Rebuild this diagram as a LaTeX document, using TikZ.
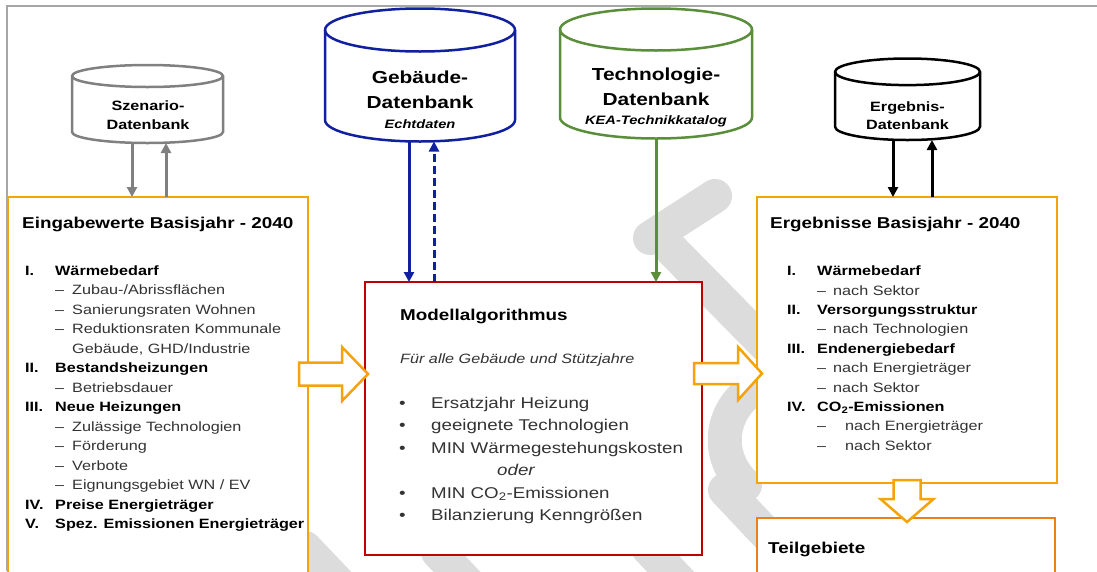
\documentclass[tikz,border=0pt]{standalone}
\usepackage{fontspec}
\setmainfont{Liberation Sans}[FakeStretch=1.2]
\usepackage{tikz}
\usetikzlibrary{arrows.meta,calc}
\definecolor{cOrangeD}{HTML}{F4A30B}
\definecolor{cOrangeT}{HTML}{EE7F14}
\definecolor{cRedD}{HTML}{C00000}
\definecolor{cBlueD}{HTML}{10209E}
\definecolor{cGreenD}{HTML}{5A8E3A}
\definecolor{cGrayD}{HTML}{808080}
\definecolor{cGrayL}{HTML}{A6A6A6}
\definecolor{cWater}{HTML}{DCDCDC}
\definecolor{cText}{HTML}{333333}
\newcommand{\fsz}[2]{\fontsize{#1}{#2}\selectfont}
\newcommand{\hd}[1]{\leavevmode{\color{black}\bfseries #1}}
% database cylinder: name, centre x, top, bottom, half width, ellipse radius, colour
\newcommand{\dbcyl}[7]{%
  \node[minimum width={2*#5}, minimum height={#4-#3}, inner sep=0pt, outer sep=0pt] (#1) at (#2,{(#3+#4)/2}) {};
  \draw[#7, line width=2.5pt, fill=white] (#2-#5,#3+#6) -- (#2-#5,#4-#6)
    arc[start angle=180, end angle=0, x radius=#5, y radius=#6] -- (#2+#5,#3+#6)
    arc[start angle=0, end angle=-180, x radius=#5, y radius=#6] -- cycle;
  \draw[#7, line width=2.5pt] (#2-#5,#3+#6) arc[start angle=180, end angle=0, x radius=#5, y radius=#6];
}
\tikzset{
  panel/.style   = {draw, line width=2.5pt, fill=white, inner sep=0pt, outer sep=0pt, anchor=north west},
  panelOr/.style = {panel, draw=cOrangeD},
  panelRd/.style = {panel, draw=cRedD},
  panelTg/.style = {panel, draw=cOrangeT},
  dbarr/.style   = {line width=3pt, -{Triangle[length=10pt,width=10pt]}},
  grayarr/.style = {dbarr, cGrayD},
  bluearr/.style = {dbarr, cBlueD},
  bluedash/.style= {dbarr, cBlueD, dash pattern=on 8pt off 4pt},
  greenarr/.style= {dbarr, cGreenD},
  blackarr/.style= {dbarr, black},
  hollow/.style  = {draw=cOrangeD, line width=2.5pt, fill=white, line join=miter},
  wmark/.style   = {cWater, line width=34pt, line cap=round},
  ttl/.style     = {anchor=base west, inner sep=0pt, font={\fsz{15.7}{18}\bfseries}},
  dbbig/.style   = {anchor=base, inner sep=0pt, font={\fsz{17.4}{20}\bfseries}},
  dbsub/.style   = {anchor=base, inner sep=0pt, font={\fsz{12.2}{14}\bfseries\itshape}},
  dbsmall/.style = {anchor=base, inner sep=0pt, font={\fsz{13.5}{16}\bfseries}},
  lst/.style     = {anchor=north west, inner sep=0pt, text=cText},
}
\begin{document}
\begin{tikzpicture}[x=1pt, y=-1pt, font={\fsz{13.5}{16}}]
  \useasboundingbox (0,0) rectangle (1097,571);
  % watermark in the background
  \draw[wmark] (650,238) -- (715,196);
  \draw[wmark] (672,250) -- (790,370);
  \draw[wmark] (745,395) .. controls (718,420) and (718,460) .. (745,485);
  \draw[wmark] (725,490) -- (805,575);
  \draw[wmark] (305,548) -- (345,590);
  \draw[wmark] (438,552) -- (478,594);
  \draw[wmark] (648,548) -- (688,590);
  \draw[cGrayL, line width=1.2pt] (7,571) -- (7,6) -- (1097,6);

  % panels
  \node[panelOr, minimum width=300, minimum height=400] (inbox) at (8,197) {};
  \node[panelRd, minimum width=337, minimum height=273] (model) at (365,282) {};
  \node[panelOr, minimum width=300, minimum height=286] (outbox) at (757,197) {};
  \node[panelTg, minimum width=298, minimum height=100] (teil) at (757,518) {};

  % databases
  \dbcyl{szen}{147.5}{65}{143}{75.5}{11}{cGrayD}
  \dbcyl{geb}{420}{8.5}{141.5}{95}{21.5}{cBlueD}
  \dbcyl{tech}{656}{8.5}{138.5}{96}{21}{cGreenD}
  \dbcyl{erg}{907.5}{58.5}{140}{72.5}{13.3}{black}
  \node[dbsmall] at (148,110) {Szenario-};
  \node[dbsmall] at (148,129.5) {Datenbank};
  \node[dbbig] at (420,83) {Gebäude-};
  \node[dbbig] at (420,108.3) {Datenbank};
  \node[dbsub] at (420,128.3) {Echtdaten};
  \node[dbbig] at (656,80) {Technologie-};
  \node[dbbig] at (656,105) {Datenbank};
  \node[dbsub] at (656,124) {KEA-Technikkatalog};
  \node[dbsmall] at (907.5,111) {Ergebnis-};
  \node[dbsmall] at (907.5,129.5) {Datenbank};

  % data flows
  \coordinate (szD) at ($(szen.south)+(-15.5,0)$);
  \coordinate (szU) at ($(szen.south)+(18.5,0)$);
  \draw[grayarr] (szD) -- (szD |- inbox.north);
  \draw[grayarr] (szU |- inbox.north) -- (szU);
  \coordinate (gbD) at ($(geb.south)+(-11,0)$);
  \coordinate (gbU) at ($(geb.south)+(14,0)$);
  \draw[bluearr] (gbD) -- (gbD |- model.north);
  \draw[bluedash] (gbU |- model.north) -- (gbU);
  \draw[greenarr] (tech.south) -- (tech.south |- model.north);
  \coordinate (egD) at ($(erg.south)+(-14.5,0)$);
  \coordinate (egU) at ($(erg.south)+(24.5,0)$);
  \draw[blackarr] (egD) -- (egD |- outbox.north);
  \draw[blackarr] (egU |- outbox.north) -- (egU);

  % block arrows
  \path (inbox.north east) ++(-9,165.5) coordinate (bL);
  \draw[hollow] (bL) -- ++(43,0) -- ++(0,-15.5) -- ++(26,27) -- ++(-26,27) -- ++(0,-15.5) -- ++(-43,0) -- cycle;
  \path (model.north east) ++(-8,81) coordinate (bR);
  \draw[hollow] (bR) -- ++(44,0) -- ++(0,-16) -- ++(24,26.5) -- ++(-24,26.5) -- ++(0,-16) -- ++(-44,0) -- cycle;
  \path (outbox.south) ++(-13.5,-3) coordinate (bD);
  \draw[hollow] (bD) -- ++(27,0) -- ++(0,19) -- ++(13,0) -- ++(-26.5,23) -- ++(-26.5,-23) -- ++(13,0) -- cycle;

  % input values
  \node[ttl] at (22,228) {Eingabewerte Basisjahr - 2040};
  \node[lst] (inlist) at (25,{275-0.7*19.5}) {\fsz{13.5}{19.5}%
    \begin{tabular}{@{}p{30pt}@{}p{17pt}@{}l@{}}
      \hd{I.}   & \multicolumn{2}{@{}l@{}}{\hd{Wärmebedarf}}\\
                & – & Zubau-/Abrissflächen\\
                & – & Sanierungsraten Wohnen\\
                & – & Reduktionsraten Kommunale\\
                &   & Gebäude, GHD/Industrie\\
      \hd{II.}  & \multicolumn{2}{@{}l@{}}{\hd{Bestandsheizungen}}\\
                & – & Betriebsdauer\\
      \hd{III.} & \multicolumn{2}{@{}l@{}}{\hd{Neue Heizungen}}\\
                & – & Zulässige Technologien\\
                & – & Förderung\\
                & – & Verbote\\
                & – & Eignungsgebiet WN / EV\\
      \hd{IV.}  & \multicolumn{2}{@{}l@{}}{\hd{Preise Energieträger}}\\
      \hd{V.}   & \multicolumn{2}{@{}l@{}}{\hd{Spez. Emissionen Energieträger}}
    \end{tabular}};

  % model
  \node[ttl] at (400,320) {Modellalgorithmus};
  \node[anchor=base west, inner sep=0pt, text=cText, font={\fsz{13.5}{16}\itshape}] at (400,363) {Für alle Gebäude und Stützjahre};
  \node[lst] (mlist) at (399,{408-0.7*22.5}) {\fsz{15.6}{22.5}%
    \begin{tabular}{@{}p{32pt}@{}l@{}}
      \textbullet & Ersatzjahr Heizung\\
      \textbullet & geeignete Technologien\\
      \textbullet & MIN Wärmegestehungskosten\\
                  & \hspace*{66pt}\textit{oder}\\
      \textbullet & MIN CO\textsubscript{2}-Emissionen\\
      \textbullet & Bilanzierung Kenngrößen
    \end{tabular}};

  % results
  \node[ttl] at (770,228) {Ergebnisse Basisjahr - 2040};
  \node[lst] (olist) at (787,{275.5-0.7*19.4}) {\fsz{13.5}{19.4}%
    \begin{tabular}{@{}p{30pt}@{}p{16pt}@{}l@{}}
      \hd{I.}   & \multicolumn{2}{@{}l@{}}{\hd{Wärmebedarf}}\\
                & – & nach Sektor\\
      \hd{II.}  & \multicolumn{2}{@{}l@{}}{\hd{Versorgungsstruktur}}\\
                & – & nach Technologien\\
      \hd{III.} & \multicolumn{2}{@{}l@{}}{\hd{Endenergiebedarf}}\\
                & – & nach Energieträger\\
                & – & nach Sektor\\
      \hd{IV.}  & \multicolumn{2}{@{}l@{}}{\hd{CO\textsubscript{2}-Emissionen}}\\
                & – & \hspace*{12pt}nach Energieträger\\
                & – & \hspace*{12pt}nach Sektor
    \end{tabular}};
  \node[ttl] at (768,553) {Teilgebiete};
\end{tikzpicture}
\end{document}
